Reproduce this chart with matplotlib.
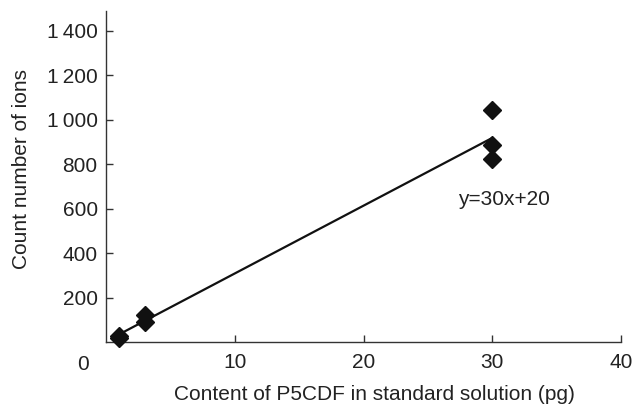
"""Calibration curve of P5CDF: ion counts versus content in standard solution."""

import numpy as np
import matplotlib.pyplot as plt

plt.rcParams["font.family"] = ["Liberation Sans", "DejaVu Sans"]

# measured points (pg, ion counts)
content_pg = [1, 1, 3, 3, 30, 30, 30]
ion_counts = [25, 20, 122, 92, 1045, 885, 825]

x_ticks = [10, 20, 30, 40]
y_ticks = [200, 400, 600, 800, 1000, 1200, 1400]
y_tick_labels = ["200", "400", "600", "800", "1\u2009000", "1\u2009200", "1\u2009400"]
equation_label = "y=30x+20"

axis_color = "#333333"
text_color = "#222222"
fs = 15

fig = plt.figure(figsize=(6.37, 4.07), dpi=100)
ax = fig.add_axes([0.1664, 0.1597, 0.8086, 0.8133])

# least-squares line over the measured range
slope, intercept = np.polyfit(content_pg, ion_counts, 1)
fit_x = np.array([min(content_pg), max(content_pg)])
ax.plot(fit_x, slope * fit_x + intercept, color="#111111", linewidth=1.6, zorder=2)

ax.plot(content_pg, ion_counts, linestyle="none", marker="D", markersize=9.5,
        color="#111111", zorder=3, clip_on=False)

ax.set_xlim(0, 40)
ax.set_ylim(0, 1490)
ax.set_xticks(x_ticks)
ax.set_yticks(y_ticks)
ax.set_yticklabels(y_tick_labels)

for side in ("top", "right"):
    ax.spines[side].set_visible(False)
for side in ("left", "bottom"):
    ax.spines[side].set_color(axis_color)
    ax.spines[side].set_linewidth(1.0)

ax.tick_params(axis="both", direction="in", length=5, width=1.0,
               color=axis_color, labelsize=fs, labelcolor=text_color)
ax.tick_params(axis="x", pad=8)
ax.tick_params(axis="y", pad=6)

# shared origin label
ax.text(-0.033, -0.038, "0", transform=ax.transAxes, ha="right", va="top",
        fontsize=fs, color=text_color)

ax.text(27.35, 640, equation_label, fontsize=fs, color=text_color,
        ha="left", va="center")

ax.set_xlabel("Content of P5CDF in standard solution (pg)", fontsize=fs,
              color=text_color)
ax.set_ylabel("Count number of ions", fontsize=fs, color=text_color)
ax.xaxis.set_label_coords(0.521, -0.13)
ax.yaxis.set_label_coords(-0.146, 0.523)

fig.savefig("out.png", dpi=100)
plt.close(fig)
